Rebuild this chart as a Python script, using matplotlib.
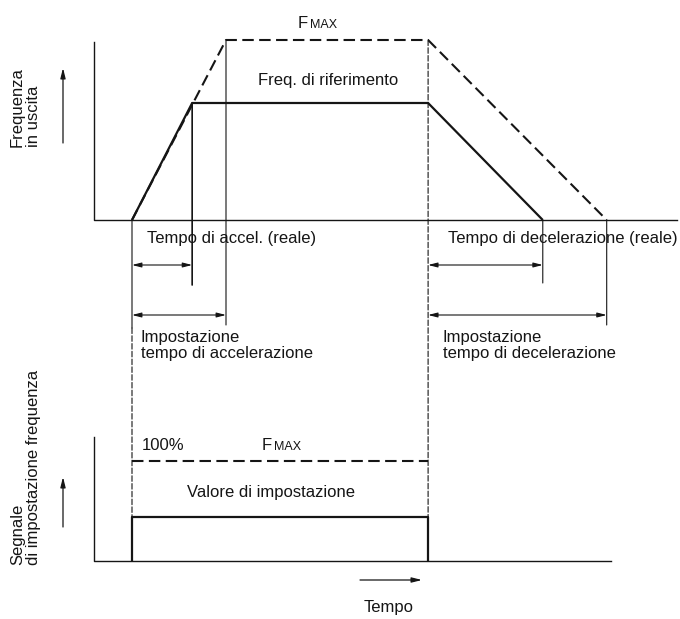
import matplotlib.pyplot as plt
from matplotlib.patches import ConnectionPatch
from matplotlib.transforms import blended_transform_factory

plt.rcParams['font.family'] = ['Liberation Sans', 'DejaVu Sans']

# Data: time in units of the accel. setting time, frequency in % of FMAX
t_off = 3.15                                  # stop command
out_real_t = [0.0, 0.64, 3.15, 4.37]          # actual output frequency
out_real_f = [0, 65, 65, 0]
out_set_t = [0.0, 1.0, 3.15, 5.05]            # ramp at the set accel/decel times
out_set_f = [0, 100, 100, 0]
sig_t = [0.0, 0.0, 3.15, 3.15]                # frequency setting signal
sig_f = [0, 44, 44, 0]
fmax_t = [0.0, 3.15]                          # 100% setting (FMAX)
fmax_f = [100, 100]

# Layout (pixels of the 680x619 picture)
W, H = 680, 619
X0, PX_T = 132, 94             # pixel of t=0, pixels per time unit
TOP0, TOP_K = 220, 1.8         # top panel baseline, pixels per %
BOT0, BOT_K = 561, 1.0         # bottom panel baseline, pixels per %
ink = '#151515'
FS = 12

fig = plt.figure(figsize=(W / 100, H / 100), dpi=100)
ax_px = fig.add_axes([0, 0, 1, 1])
ax_top = fig.add_axes([0, 0, 1, 1])
ax_bot = fig.add_axes([0, 0, 1, 1])
for a in (ax_px, ax_top, ax_bot):
    a.axis('off')
    a.patch.set_visible(False)
ax_px.set_xlim(0, W)
ax_px.set_ylim(H, 0)
xl = (-X0 / PX_T, (W - X0) / PX_T)
ax_top.set_xlim(xl)
ax_top.set_ylim((TOP0 - H) / TOP_K, TOP0 / TOP_K)
ax_bot.set_xlim(xl)
ax_bot.set_ylim((BOT0 - H) / BOT_K, BOT0 / BOT_K)

# t in data, y in pixels
tpx = blended_transform_factory(ax_top.transData, ax_px.transData)

thick = dict(color=ink, lw=1.6, solid_capstyle='butt')
dash = dict(color=ink, lw=1.5, linestyle=(0, (5.5, 2.6)))
thin = dict(color=ink, lw=0.8)
thin_dash = dict(color=ink, lw=0.8, linestyle=(0, (5, 2)))

# axes frames
ax_top.plot([-0.4, -0.4, 5.8], [99, 0, 0], color=ink, lw=1.0)
ax_bot.plot([-0.4, -0.4, 5.1], [124, 0, 0], color=ink, lw=1.0)

# top panel curves
ax_top.plot(out_set_t, out_set_f, **dash)
ax_top.plot(out_real_t, out_real_f, **thick)

# bottom panel
ax_bot.plot(fmax_t, fmax_f, **dash)
ax_bot.plot(sig_t, sig_f, **thick)


def link(xyA, coordsA, xyB, coordsB, style):
    con = ConnectionPatch(xyA=xyA, coordsA=coordsA, xyB=xyB, coordsB=coordsB,
                          arrowstyle='-', **style)
    fig.add_artist(con)


# guide lines below the top panel
link((out_real_t[1], out_real_f[1]), ax_top.transData, (out_real_t[1], 285), tpx,
     dict(color=ink, lw=1.2))
link((out_set_t[1], out_set_f[1]), ax_top.transData, (out_set_t[1], 325), tpx, thin)
link((out_real_t[3], 0), ax_top.transData, (out_real_t[3], 283), tpx, thin)
link((out_set_t[3], 0), ax_top.transData, (out_set_t[3], 325), tpx, thin)
link((out_real_t[0], 0), ax_top.transData, (out_real_t[0], 328), tpx, thin)

# long dashed guides down to the setting signal
link((sig_t[0], 328), tpx, (sig_t[1], sig_f[1]), ax_bot.transData, thin_dash)
link((t_off, out_set_f[2]), ax_top.transData, (t_off, sig_f[2]), ax_bot.transData,
     thin_dash)

# dimension arrows
dim = dict(arrowstyle='<|-|>,head_length=0.55,head_width=0.14', color=ink,
           lw=0.8, shrinkA=0, shrinkB=0, mutation_scale=10)
for (ta, tb), ypx in [((out_real_t[0], out_real_t[1]), 265),
                      ((out_set_t[0], out_set_t[1]), 315),
                      ((out_real_t[2], out_real_t[3]), 265),
                      ((out_set_t[2], out_set_t[3]), 315)]:
    ax_px.annotate('', xy=(tb, ypx), xytext=(ta, ypx), xycoords=tpx,
                   textcoords=tpx, arrowprops=dim)

# direction arrows
one = dict(arrowstyle='-|>,head_length=0.6,head_width=0.15', color=ink,
           lw=0.9, shrinkA=0, shrinkB=0, mutation_scale=10)
ax_px.annotate('', xy=(63, 68), xytext=(63, 143), arrowprops=one)
ax_px.annotate('', xy=(63, 477), xytext=(63, 527), arrowprops=one)
ax_px.annotate('', xy=(422, 580), xytext=(360, 580), arrowprops=one)


def txt(x, y, s, size=FS, ha='left'):
    ax_px.text(x, y, s, fontsize=size, color=ink, va='baseline', ha=ha)


txt(298, 28, 'F')
txt(310, 28, 'MAX', size=9)
txt(258, 85, 'Freq. di riferimento')
txt(147, 243, 'Tempo di accel. (reale)')
txt(448, 243, 'Tempo di decelerazione (reale)')
txt(141, 342, 'Impostazione')
txt(141, 358, 'tempo di accelerazione')
txt(443, 342, 'Impostazione')
txt(443, 358, 'tempo di decelerazione')
txt(142, 450, '100%')
txt(262, 450, 'F')
txt(274, 450, 'MAX', size=9)
txt(187, 497, 'Valore di impostazione')
txt(389, 612, 'Tempo', ha='center')

rot = dict(fontsize=FS, color=ink, rotation=90, rotation_mode='anchor',
           ha='left', va='top', linespacing=1.08)
ax_px.text(10, 147, 'Frequenza\nin uscita', **rot)
ax_px.text(10, 565, 'Segnale\ndi impostazione frequenza', **rot)

fig.savefig('out.png', dpi=100, facecolor='white')
